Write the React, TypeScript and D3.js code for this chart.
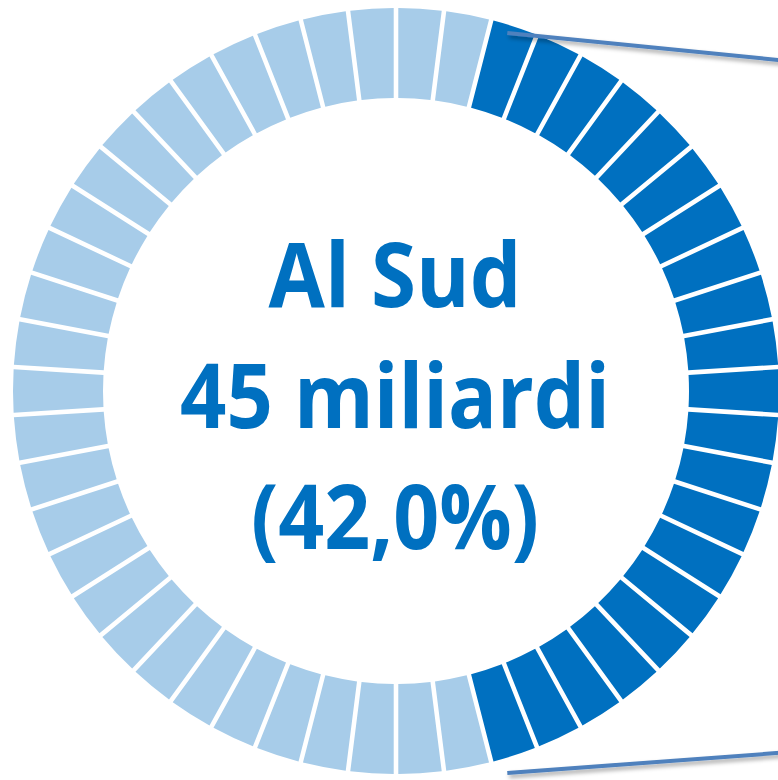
import React from "react";
import * as d3 from "d3";

// ---- data ----
const categories = ["Al Sud", "Resto"];
const shares = [42.0, 58.0];
const segmentCount = 50;
const labelLines = ["Al Sud", "45 miliardi", "(42,0%)"];
const labelWidths = [253, 430, 288];

const W = 778;
const H = 780;
const cx = 396;
const cy = 391;
const rOuter = 383;
const rInner = 293;
const DARK = "#0070c0";
const LIGHT = "#a7cce9";
const LINE = "#4f81bd";

export default function App() {
  const darkCount = Math.round((shares[0] / 100) * segmentCount);
  const segAngle = (2 * Math.PI) / segmentCount;
  const darkSpan = darkCount * segAngle;
  const startOffset = Math.PI / 2 - darkSpan / 2;

  const pie = d3
    .pie<number>()
    .sort(null)
    .value((d) => d)
    .startAngle(startOffset)
    .endAngle(startOffset + 2 * Math.PI);
  const segments = pie(d3.range(segmentCount).map(() => 1));

  const arc = d3
    .arc<d3.PieArcDatum<number>>()
    .innerRadius(rInner)
    .outerRadius(rOuter)
    .padAngle(0.0095);

  const color = (i: number) => (i < darkCount ? DARK : LIGHT);

  // connector lines from the dark block toward the right
  const a0 = startOffset + 0.05;
  const rl = rOuter - 8;
  const p0 = [cx + rl * Math.sin(a0), cy - rl * Math.cos(a0)];
  const p1 = [p0[0], cy + rOuter - 1];
  const xEnd = W + 12;
  const topEnd = [xEnd, p0[1] + (xEnd - p0[0]) * 0.1];
  const botEnd = [xEnd, p1[1] - (xEnd - p1[0]) * 0.074];

  const lineH = 121;
  const firstBase = cy - 84;

  return (
    <svg
      width={W}
      height={H}
      style={{ position: "absolute", left: 0, top: 0, background: "#fff" }}
    >
      <defs>
        <filter id="shadow" x="-10%" y="-200%" width="130%" height="500%">
          <feDropShadow dx="2" dy="3" stdDeviation="2" floodColor="#000" floodOpacity="0.35" />
        </filter>
      </defs>
      <g transform={`translate(${cx},${cy})`}>
        {segments.map((s, i) => (
          <path key={i} d={arc(s) || ""} fill={color(i)} />
        ))}
      </g>
      <g filter="url(#shadow)">
        <line x1={p0[0]} y1={p0[1]} x2={topEnd[0]} y2={topEnd[1]} stroke={LINE} strokeWidth={4} />
        <line x1={p1[0]} y1={p1[1]} x2={botEnd[0]} y2={botEnd[1]} stroke={LINE} strokeWidth={4} />
      </g>
      {labelLines.map((t, i) => (
        <text
          key={i}
          x={cx - 1}
          y={firstBase + i * lineH}
          textAnchor="middle"
          fill={DARK}
          fontFamily="'Open Sans', sans-serif"
          fontWeight={700}
          fontSize={89}
          textLength={labelWidths[i]}
          lengthAdjust="spacingAndGlyphs"
        >
          {t}
        </text>
      ))}
      <title>{categories.join(" / ")}</title>
    </svg>
  );
}
